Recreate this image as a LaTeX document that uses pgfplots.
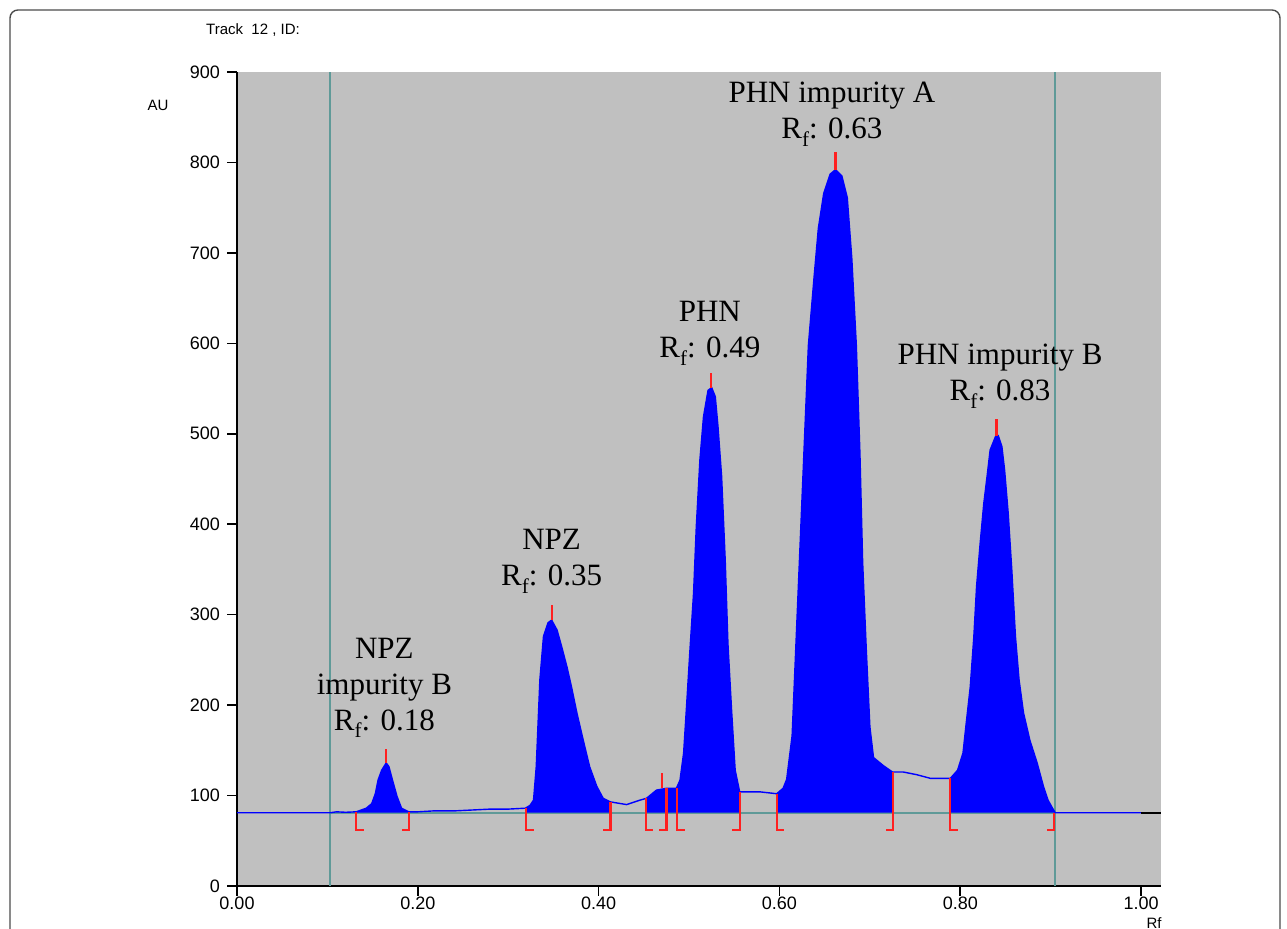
\documentclass[border=0pt]{standalone}
\usepackage{fontspec}
\setmainfont{Liberation Serif}
\setsansfont{Liberation Sans}
\usepackage{pgfplots}
\pgfplotsset{compat=1.18}
\definecolor{bgGray}{HTML}{C0C0C0}
\definecolor{sigBlue}{HTML}{0000FF}
\definecolor{mkRed}{HTML}{FF2020}
\definecolor{bandTeal}{HTML}{5F9A98}
\newcommand\Rf{R\raisebox{-0.55ex}{\fontsize{10.5}{10.5}\selectfont f}}

% densitogram, track 12 (Rf, AU)
\pgfplotstableread{
x y
0.000 81
0.103 81
0.110 82
0.120 81.5
0.132 82
0.143 86
0.149 91
0.153 102
0.156 117
0.160 128
0.165 136
0.168 132
0.172 117
0.177 99
0.182 86
0.190 82
0.200 82
0.217 83
0.240 83
0.260 84
0.280 85
0.300 85
0.319 86
0.324 89
0.328 95
0.331 132
0.335 228
0.339 276
0.344 291
0.348 294
0.354 283
0.359 265
0.365 242
0.370 220
0.376 191
0.383 161
0.390 132
0.398 110
0.405 97
0.413 93
0.431 90
0.446 95
0.453 97
0.464 106
0.475 108
0.486 108
0.490 117
0.494 147
0.497 195
0.501 261
0.505 324
0.508 397
0.512 471
0.516 519
0.521 548
0.525 551
0.529 541
0.532 508
0.536 453
0.540 360
0.543 268
0.547 195
0.551 128
0.556 104
0.579 104
0.597 102
0.604 108
0.608 118
0.614 166
0.617 238
0.621 334
0.625 430
0.629 526
0.632 598
0.638 670
0.643 727
0.649 766
0.656 787
0.662 792
0.669 785
0.675 761
0.680 694
0.685 598
0.689 478
0.692 358
0.696 262
0.700 176
0.704 142
0.715 133
0.725 126
0.737 126
0.752 123
0.767 119
0.789 119
0.797 128
0.803 147
0.807 184
0.811 220
0.815 276
0.818 331
0.822 379
0.826 423
0.830 456
0.833 482
0.839 497
0.842 498
0.846 486
0.849 460
0.853 412
0.857 349
0.861 276
0.865 228
0.870 191
0.877 161
0.885 136
0.892 110
0.897 95
0.902 86
0.905 81
1.000 81
}\track

\begin{document}
\begin{tikzpicture}
\useasboundingbox (0,0) rectangle (643.5pt,464.5pt);
\draw[gray!60!black, line width=0.7pt, rounded corners=4pt]
  (5pt,0) -- (5pt,459.5pt) -- (640pt,459.5pt) -- (640pt,0);

\begin{axis}[
    at={(118.5pt,21.5pt)}, anchor=south west,
    scale only axis,
    width=462pt, height=407pt,
    xmin=0, xmax=1.022,
    ymin=0, ymax=900,
    axis lines*=left,
    axis line style={-, line width=0.8pt},
    axis background/.style={fill=bgGray},
    tick align=outside,
    major tick length=5pt,
    tick style={black, line width=0.8pt},
    xtick={0,0.2,0.4,0.6,0.8,1.0},
    ytick={0,100,200,300,400,500,600,700,800,900},
    xticklabel style={yshift=3pt, /pgf/number format/.cd, fixed, fixed zerofill, precision=2},
    ticklabel style={font=\sffamily\fontsize{9}{10}\selectfont},
    /pgf/number format/assume math mode=true,
    unbounded coords=jump,
]
% scan window and baseline
\addplot[bandTeal, line width=0.9pt] coordinates {(0.103,0) (0.103,900)};
\addplot[bandTeal, line width=0.9pt] coordinates {(0.905,0) (0.905,900)};
\addplot[bandTeal, line width=0.8pt] coordinates {(0.103,81) (0.905,81)};

% integrated peaks, filled down to the baseline
\addplot[fill=sigBlue, draw=none] table[restrict x to domain=0.132:0.190] {\track} |- (axis cs:0.132,81) -- cycle;
\addplot[fill=sigBlue, draw=none] table[restrict x to domain=0.319:0.413] {\track} |- (axis cs:0.319,81) -- cycle;
\addplot[fill=sigBlue, draw=none] table[restrict x to domain=0.453:0.556] {\track} |- (axis cs:0.453,81) -- cycle;
\addplot[fill=sigBlue, draw=none] table[restrict x to domain=0.597:0.725] {\track} |- (axis cs:0.597,81) -- cycle;
\addplot[fill=sigBlue, draw=none] table[restrict x to domain=0.789:0.905] {\track} |- (axis cs:0.789,81) -- cycle;

% signal
\addplot[sigBlue, line width=0.7pt] table {\track};
\addplot[black, line width=0.8pt] coordinates {(1.0,81) (1.022,81)};

% peak start/end brackets
\addplot[mkRed, line width=1.1pt] coordinates {
  (0.132,82) (0.132,62) (0.140,62) (nan,nan)
  (0.190,82) (0.190,62) (0.182,62) (nan,nan)
  (0.320,86) (0.320,62) (0.328,62) (nan,nan)
  (0.413,93) (0.413,62) (0.405,62) (nan,nan)
  (0.452,97) (0.452,62) (0.460,62) (nan,nan)
  (0.475,108) (0.475,62) (0.467,62) (nan,nan)
  (0.487,108) (0.487,62) (0.495,62) (nan,nan)
  (0.556,104) (0.556,62) (0.548,62) (nan,nan)
  (0.597,102) (0.597,62) (0.605,62) (nan,nan)
  (0.726,126) (0.726,62) (0.718,62) (nan,nan)
  (0.789,119) (0.789,62) (0.797,62) (nan,nan)
  (0.904,81) (0.904,62) (0.896,62)
};
% peak apex marks
\addplot[mkRed, line width=1.1pt] coordinates {
  (0.165,136) (0.165,152) (nan,nan)
  (0.348,294) (0.348,311) (nan,nan)
  (0.470,108) (0.470,125) (nan,nan)
  (0.524,551) (0.524,567) (nan,nan)
  (0.662,792) (0.662,811) (nan,nan)
  (0.840,498) (0.840,516)
};

\node[align=center, font=\fontsize{15.5}{18}\selectfont] at (axis cs:0.163,219) {NPZ\\impurity B\\\Rf: 0.18};
\node[align=center, font=\fontsize{15.5}{18}\selectfont] at (axis cs:0.348,359) {NPZ\\\Rf: 0.35};
\node[align=center, font=\fontsize{15.5}{18}\selectfont] at (axis cs:0.523,611) {PHN\\\Rf: 0.49};
\node[align=center, font=\fontsize{15.5}{18}\selectfont] at (axis cs:0.658,853) {PHN impurity A\\\Rf: 0.63};
\node[align=center, font=\fontsize{15.5}{18}\selectfont] at (axis cs:0.844,564) {PHN impurity B\\\Rf: 0.83};
\end{axis}

\node[font=\sffamily\fontsize{7.5}{9}\selectfont] at (126.5pt,449.5pt) {Track\ \ 12 , ID:};
\node[font=\sffamily\fontsize{7.5}{9}\selectfont] at (79pt,412pt) {AU};
\node[font=\sffamily\fontsize{7.5}{9}\selectfont] at (577pt,3pt) {Rf};
\end{tikzpicture}
\end{document}
